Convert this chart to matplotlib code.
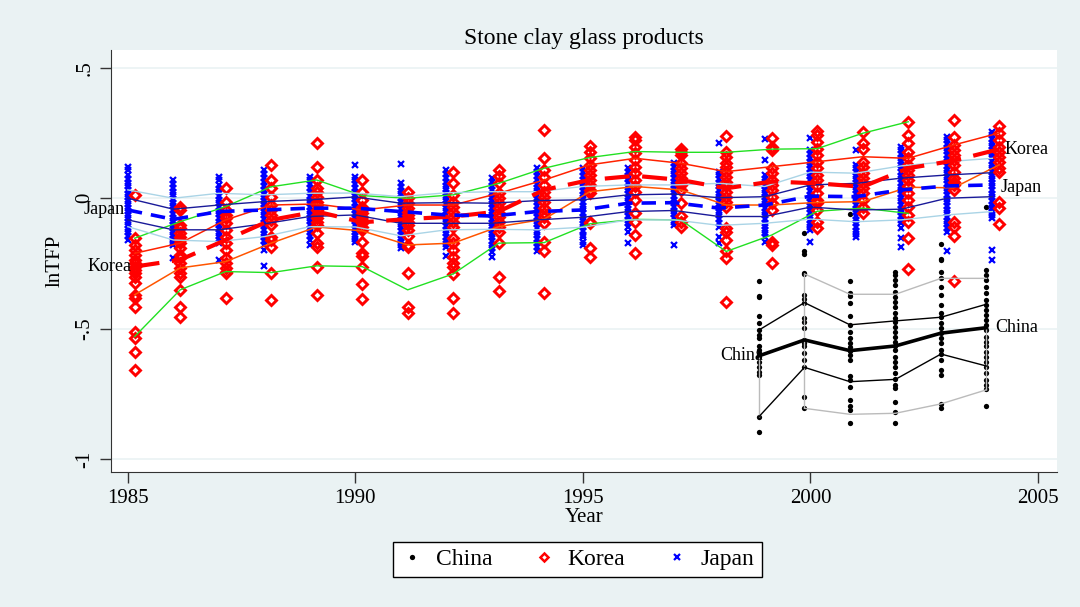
import matplotlib
matplotlib.use("Agg")
import matplotlib.pyplot as plt
from matplotlib.lines import Line2D
import numpy as np

plt.rcParams['font.family'] = ['Liberation Serif', 'DejaVu Serif']

nan = np.nan
years = list(range(1985, 2005))
china_years = list(range(1999, 2005))

# percentile lines
korea_p10 = [-0.53, -0.351, -0.281, -0.285, -0.259, -0.262, -0.351, -0.29, -0.172, -0.17,
             -0.098, -0.081, -0.083, -0.204, -0.141, -0.05, -0.038, -0.058, nan, nan]
korea_p25 = [-0.37, -0.267, -0.243, -0.172, -0.11, -0.125, -0.179, -0.172, -0.109, -0.08,
             0.025, 0.045, 0.032, -0.026, -0.026, -0.016, -0.013, 0.042, 0.04, 0.128]
korea_p50 = [-0.262, -0.236, -0.16, -0.083, -0.051, -0.092, -0.08, -0.07, -0.051, 0.032,
             0.07, 0.086, 0.07, 0.038, 0.064, 0.057, 0.044, 0.115, 0.144, 0.188]
korea_p75 = [-0.211, -0.172, -0.083, -0.026, -0.022, -0.045, -0.026, -0.026, 0.019, 0.07,
             0.128, 0.153, 0.134, 0.102, 0.121, 0.14, 0.159, 0.153, 0.204, 0.25]
korea_p90 = [-0.153, -0.09, -0.032, 0.044, 0.07, 0.01, 0.0, 0.013, 0.057, 0.115,
             0.156, 0.179, 0.176, 0.176, 0.188, 0.19, 0.249, 0.293, nan, nan]

japan_p10 = [-0.109, -0.16, -0.166, -0.147, -0.109, -0.11, -0.144, -0.121, -0.119, -0.121,
             -0.111, -0.083, -0.083, -0.104, -0.096, -0.08, -0.09, -0.083, -0.064, -0.051]
japan_p25 = [-0.083, -0.121, -0.121, -0.098, -0.07, -0.064, -0.096, -0.096, -0.096, -0.083,
             -0.073, -0.051, -0.047, -0.07, -0.07, -0.034, -0.045, -0.042, 0.0, 0.006]
japan_p50 = [-0.045, -0.081, -0.051, -0.045, -0.038, -0.038, -0.051, -0.064, -0.068, -0.051,
             -0.045, -0.019, -0.017, -0.038, -0.026, 0.008, 0.006, 0.032, 0.047, 0.051]
japan_p75 = [0.0, -0.042, -0.026, -0.013, -0.006, 0.005, -0.019, -0.017, -0.019, -0.009,
             -0.006, 0.013, 0.016, 0.002, 0.006, 0.051, 0.057, 0.077, 0.089, 0.098]
japan_p90 = [0.032, 0.0, 0.019, 0.013, 0.019, 0.02, 0.006, 0.021, 0.025, 0.025,
             0.045, 0.051, 0.051, 0.057, 0.045, 0.1, 0.096, 0.124, 0.14, 0.153]

china_p10 = [nan, -0.805, -0.828, -0.824, -0.788, -0.734]
china_p25 = [-0.837, -0.648, -0.703, -0.694, -0.597, -0.643]
china_p50 = [-0.604, -0.543, -0.584, -0.566, -0.517, -0.496]
china_p75 = [-0.505, -0.4, -0.485, -0.47, -0.456, -0.406]
china_p90 = [nan, -0.29, -0.368, -0.368, -0.307, -0.307]

# grey vertical joins in the China outer band
china_spike_years = [1999, 2000, 2004]
china_spike_top = [-0.604, -0.29, -0.496]
china_spike_bot = [-0.837, -0.805, -0.734]

# firm level lnTFP, one list per year
korea_pts = [
    [0.013, -0.153, -0.179, -0.198, -0.217, -0.236, -0.249, -0.262, -0.275, -0.287, -0.3, -0.326,
     -0.37, -0.383, -0.415, -0.511, -0.536, -0.591, -0.658],
    [-0.032, -0.045, -0.102, -0.115, -0.134, -0.147, -0.16, -0.172, -0.192, -0.217, -0.23, -0.249,
     -0.268, -0.287, -0.3, -0.351, -0.415, -0.454],
    [0.038, -0.013, -0.045, -0.064, -0.077, -0.096, -0.121, -0.147, -0.172, -0.198, -0.23, -0.249,
     -0.268, -0.281, -0.287, -0.383],
    [0.128, 0.07, 0.038, 0.006, -0.026, -0.045, -0.064, -0.083, -0.102, -0.147, -0.16, -0.185,
     -0.287, -0.39],
    [0.211, 0.121, 0.07, 0.038, 0.025, 0.006, -0.013, -0.026, -0.045, -0.064, -0.077, -0.09,
     -0.102, -0.134, -0.172, -0.185, -0.262, -0.37],
    [0.07, 0.025, -0.006, -0.032, -0.045, -0.057, -0.07, -0.083, -0.096, -0.109, -0.121, -0.166,
     -0.211, -0.221, -0.264, -0.328, -0.387],
    [0.025, 0.0, -0.019, -0.038, -0.051, -0.064, -0.077, -0.09, -0.102, -0.121, -0.144, -0.179,
     -0.185, -0.287, -0.415, -0.441],
    [0.102, 0.06, 0.013, -0.013, -0.032, -0.051, -0.07, -0.09, -0.109, -0.153, -0.172, -0.198,
     -0.224, -0.249, -0.262, -0.29, -0.383, -0.441],
    [0.108, 0.085, 0.06, 0.019, 0.0, -0.019, -0.038, -0.057, -0.073, -0.09, -0.109, -0.128,
     -0.172, -0.3, -0.354],
    [0.262, 0.153, 0.108, 0.083, 0.051, 0.025, 0.006, -0.013, -0.038, -0.057, -0.073, -0.096,
     -0.166, -0.204, -0.364],
    [0.2, 0.179, 0.153, 0.128, 0.108, 0.089, 0.07, 0.051, 0.032, 0.019, -0.09, -0.096, -0.192,
     -0.226],
    [0.236, 0.223, 0.198, 0.172, 0.147, 0.121, 0.096, 0.07, 0.045, 0.025, -0.006, -0.058, -0.09,
     -0.141, -0.211],
    [0.19, 0.179, 0.166, 0.134, 0.115, 0.096, 0.077, 0.064, 0.051, 0.032, -0.019, -0.068, -0.09,
     -0.109],
    [0.238, 0.179, 0.159, 0.134, 0.121, 0.102, 0.083, 0.064, 0.045, 0.025, 0.006, -0.013, -0.032,
     -0.115, -0.128, -0.16, -0.204, -0.23, -0.396],
    [0.23, 0.198, 0.185, 0.115, 0.096, 0.07, 0.051, 0.032, 0.006, -0.019, -0.045, -0.166, -0.179,
     -0.249],
    [0.259, 0.243, 0.217, 0.19, 0.166, 0.14, 0.115, 0.089, 0.07, 0.045, 0.019, -0.006, -0.019,
     -0.045, -0.09, -0.115],
    [0.255, 0.211, 0.19, 0.14, 0.121, 0.096, 0.077, 0.057, 0.038, 0.019, -0.006, -0.032, -0.058],
    [0.293, 0.243, 0.211, 0.179, 0.153, 0.128, 0.108, 0.089, 0.07, 0.045, 0.019, -0.006, -0.032,
     -0.064, -0.09, -0.153, -0.272],
    [0.3, 0.236, 0.204, 0.185, 0.166, 0.147, 0.128, 0.102, 0.077, 0.064, 0.051, 0.032, -0.09,
     -0.109, -0.144, -0.319],
    [0.277, 0.249, 0.223, 0.198, 0.179, 0.159, 0.14, 0.115, 0.102, -0.013, -0.038, -0.098],
]

japan_pts = [
    [0.121, 0.108, 0.09, 0.072, 0.058, 0.045, 0.03, 0.018, 0.004, -0.01, -0.022, -0.036, -0.05,
     -0.063, -0.077, -0.09, -0.104, -0.118, -0.131, -0.145, -0.16],
    [0.07, 0.055, 0.04, 0.025, 0.012, -0.002, -0.017, -0.031, -0.045, -0.06, -0.074, -0.088,
     -0.101, -0.115, -0.128, -0.142, -0.155, -0.167, -0.179, -0.23],
    [0.083, 0.068, 0.052, 0.037, 0.022, 0.008, -0.006, -0.02, -0.034, -0.048, -0.062, -0.076,
     -0.09, -0.104, -0.118, -0.132, -0.146, -0.159, -0.172, -0.236],
    [0.108, 0.093, 0.077, 0.062, 0.047, 0.032, 0.018, 0.004, -0.01, -0.024, -0.038, -0.052,
     -0.066, -0.08, -0.094, -0.108, -0.122, -0.136, -0.15, -0.165, -0.18, -0.198, -0.26],
    [0.083, 0.068, 0.053, 0.038, 0.023, 0.009, -0.005, -0.019, -0.033, -0.047, -0.061, -0.075,
     -0.089, -0.103, -0.117, -0.131, -0.145, -0.16, -0.179],
    [0.128, 0.083, 0.068, 0.053, 0.038, 0.024, 0.01, -0.004, -0.018, -0.032, -0.046, -0.06,
     -0.074, -0.088, -0.102, -0.116, -0.13, -0.144, -0.155, -0.166],
    [0.13, 0.057, 0.043, 0.029, 0.015, 0.001, -0.013, -0.027, -0.041, -0.055, -0.069, -0.083,
     -0.097, -0.111, -0.125, -0.139, -0.153, -0.166, -0.18, -0.192],
    [0.108, 0.093, 0.078, 0.063, 0.048, 0.034, 0.02, 0.006, -0.008, -0.022, -0.036, -0.05,
     -0.064, -0.078, -0.092, -0.106, -0.12, -0.134, -0.148, -0.162, -0.175, -0.185, -0.221],
    [0.077, 0.062, 0.047, 0.032, 0.018, 0.004, -0.01, -0.024, -0.038, -0.052, -0.066, -0.08,
     -0.094, -0.108, -0.122, -0.136, -0.15, -0.164, -0.178, -0.192, -0.206, -0.224],
    [0.115, 0.1, 0.085, 0.07, 0.055, 0.04, 0.026, 0.012, -0.002, -0.016, -0.03, -0.044, -0.058,
     -0.072, -0.086, -0.1, -0.114, -0.128, -0.142, -0.156, -0.17, -0.186, -0.204],
    [0.115, 0.1, 0.085, 0.07, 0.056, 0.042, 0.028, 0.014, 0.0, -0.014, -0.028, -0.042, -0.056,
     -0.07, -0.084, -0.098, -0.112, -0.126, -0.14, -0.15, -0.168, -0.18],
    [0.115, 0.1, 0.086, 0.072, 0.058, 0.044, 0.03, 0.016, 0.002, -0.012, -0.026, -0.04, -0.054,
     -0.068, -0.082, -0.096, -0.11, -0.128, -0.172],
    [0.134, 0.12, 0.106, 0.092, 0.078, 0.064, 0.05, 0.036, 0.022, 0.008, -0.006, -0.02, -0.034,
     -0.048, -0.062, -0.076, -0.09, -0.102, -0.179],
    [0.211, 0.102, 0.088, 0.074, 0.06, 0.046, 0.032, 0.018, 0.004, -0.01, -0.024, -0.038, -0.052,
     -0.066, -0.08, -0.094, -0.109, -0.147, -0.172],
    [0.226, 0.147, 0.089, 0.075, 0.061, 0.047, 0.033, 0.019, 0.005, -0.009, -0.023, -0.037,
     -0.051, -0.065, -0.079, -0.093, -0.107, -0.121, -0.135, -0.15, -0.166],
    [0.23, 0.185, 0.17, 0.155, 0.14, 0.126, 0.112, 0.098, 0.084, 0.07, 0.056, 0.042, 0.028,
     0.014, 0.0, -0.014, -0.028, -0.042, -0.056, -0.07, -0.084, -0.098, -0.11, -0.121, -0.166],
    [0.185, 0.128, 0.114, 0.1, 0.086, 0.072, 0.058, 0.044, 0.03, 0.016, 0.002, -0.012, -0.026,
     -0.04, -0.054, -0.068, -0.082, -0.096, -0.11, -0.124, -0.136, -0.147],
    [0.198, 0.184, 0.17, 0.156, 0.142, 0.128, 0.114, 0.1, 0.086, 0.072, 0.058, 0.044, 0.03,
     0.016, 0.002, -0.012, -0.026, -0.04, -0.054, -0.068, -0.082, -0.096, -0.115, -0.153, -0.185],
    [0.236, 0.222, 0.208, 0.194, 0.18, 0.166, 0.152, 0.138, 0.124, 0.11, 0.096, 0.082, 0.068,
     0.054, 0.04, 0.026, 0.012, -0.002, -0.016, -0.03, -0.044, -0.058, -0.072, -0.086, -0.1,
     -0.114, -0.128, -0.204],
    [0.255, 0.241, 0.227, 0.213, 0.199, 0.185, 0.171, 0.157, 0.143, 0.129, 0.115, 0.101, 0.087,
     0.073, 0.059, 0.045, 0.031, 0.017, 0.003, -0.011, -0.025, -0.039, -0.053, -0.065, -0.077,
     -0.2, -0.236],
]

china_pts = [
    [-0.316, -0.374, -0.379, -0.451, -0.479, -0.505, -0.524, -0.536, -0.568, -0.581, -0.594,
     -0.607, -0.626, -0.645, -0.664, -0.677, -0.837, -0.894],
    [-0.132, -0.204, -0.213, -0.287, -0.29, -0.37, -0.387, -0.4, -0.46, -0.473, -0.498, -0.543,
     -0.556, -0.568, -0.594, -0.62, -0.648, -0.76, -0.805],
    [-0.06, -0.316, -0.364, -0.374, -0.402, -0.451, -0.485, -0.511, -0.536, -0.556, -0.571,
     -0.584, -0.6, -0.62, -0.683, -0.696, -0.722, -0.773, -0.798, -0.811, -0.86],
    [-0.281, -0.294, -0.313, -0.332, -0.358, -0.377, -0.396, -0.415, -0.441, -0.46, -0.473,
     -0.492, -0.511, -0.53, -0.549, -0.566, -0.581, -0.607, -0.626, -0.645, -0.67, -0.694,
     -0.715, -0.728, -0.779, -0.821, -0.86],
    [-0.175, -0.234, -0.236, -0.281, -0.307, -0.339, -0.37, -0.409, -0.441, -0.456, -0.479,
     -0.498, -0.517, -0.536, -0.556, -0.581, -0.597, -0.62, -0.658, -0.677, -0.788, -0.805],
    [-0.032, -0.275, -0.294, -0.313, -0.339, -0.364, -0.39, -0.409, -0.428, -0.447, -0.466,
     -0.485, -0.505, -0.53, -0.549, -0.568, -0.588, -0.607, -0.626, -0.645, -0.67, -0.696,
     -0.715, -0.732, -0.796],
]

# small horizontal offsets so the three countries do not sit on top of each other
off_china, off_japan, off_korea = -0.13, 0.0, 0.15

fig = plt.figure(figsize=(10.8, 6.07), dpi=100)
fig.patch.set_facecolor('#eaf2f3')
ax = fig.add_axes([111 / 1080, 1 - 472 / 607, (1057 - 111) / 1080, (472 - 50) / 607])
ax.set_facecolor('white')

ax.set_xlim(1984.63, 2005.42)
ax.set_ylim(-1.049, 0.568)
ax.set_yticks([-1, -0.5, 0, 0.5])
ax.set_yticklabels(['-1', '-.5', '0', '.5'], rotation=90, va='center')
ax.set_xticks([1985, 1990, 1995, 2000, 2005])
for yv in [-1, -0.5, 0, 0.5]:
    ax.axhline(yv, color='#eaf2f3', lw=1.2, zorder=0)

for s in ['top', 'right']:
    ax.spines[s].set_visible(False)
for s in ['left', 'bottom']:
    ax.spines[s].set_color('#333333')
ax.tick_params(axis='both', direction='out', length=8, width=1, color='#333333',
               labelsize=15, pad=4)

# scatter
for i, yr in enumerate(china_years):
    ax.plot([yr + off_china] * len(china_pts[i]), china_pts[i], 'o', color='black', ms=3.8,
            mew=0, zorder=2)
for i, yr in enumerate(years):
    ax.plot([yr + off_japan] * len(japan_pts[i]), japan_pts[i], 'x', color='#0000ff', ms=4.5,
            mew=1.6, zorder=2)
for i, yr in enumerate(years):
    ax.plot([yr + off_korea] * len(korea_pts[i]), korea_pts[i], 'D', color='#ff0000', ms=5.2,
            mfc='none', mew=2.1, zorder=3)

kx = np.array(years) + off_korea
jx = np.array(years) + off_japan
cx = np.array(china_years) + off_china

# Korea lines
ax.plot(kx, korea_p10, color='#22e022', lw=1, zorder=4)
ax.plot(kx, korea_p90, color='#22e022', lw=1, zorder=4)
ax.plot(kx, korea_p25, color='#ff5500', lw=1.1, zorder=4)
ax.plot(kx, korea_p75, color='#ff2200', lw=1.1, zorder=4)
ax.plot(kx, korea_p50, color='#ff0000', lw=3, dashes=(6, 3), zorder=5)

# Japan lines
ax.plot(jx, japan_p10, color='#aad4e6', lw=1, zorder=4)
ax.plot(jx, japan_p90, color='#aad4e6', lw=1, zorder=4)
ax.plot(jx, japan_p25, color='#1a1a99', lw=1, zorder=4)
ax.plot(jx, japan_p75, color='#1a1a99', lw=1, zorder=4)
ax.plot(jx, japan_p50, color='#0000ff', lw=2.6, dashes=(4, 2.5), zorder=5)

# China lines
ax.vlines(np.array(china_spike_years) + off_china, china_spike_bot, china_spike_top,
          color='#bbbbbb', lw=1, zorder=4)
ax.plot(cx, china_p10, color='#bbbbbb', lw=1, zorder=4)
ax.plot(cx, china_p90, color='#bbbbbb', lw=1, zorder=4)
ax.plot(cx, china_p25, color='black', lw=1, zorder=4)
ax.plot(cx, china_p75, color='black', lw=1, zorder=4)
ax.plot(cx, china_p50, color='black', lw=2.6, zorder=5)

# line labels at both ends of the median
lab = dict(fontsize=13, va='center', zorder=6)
ax.annotate('Japan', (jx[0], japan_p50[0]), xytext=(-2, 0), textcoords='offset points',
            ha='right', **lab)
ax.annotate('Korea', (kx[0], korea_p50[0]), xytext=(-2, 0), textcoords='offset points',
            ha='right', **lab)
ax.annotate('Korea', (kx[-1], korea_p50[-1]), xytext=(4, 0), textcoords='offset points',
            ha='left', **lab)
ax.annotate('Japan', (jx[-1], japan_p50[-1]), xytext=(6, -2), textcoords='offset points',
            ha='left', **lab)
ax.annotate('China', (cx[0], china_p50[0]), xytext=(3, 0), textcoords='offset points',
            ha='right', **lab)
ax.annotate('China', (cx[-1], china_p50[-1]), xytext=(6, 0), textcoords='offset points',
            ha='left', **lab)

ax.set_title('Stone clay glass products', fontsize=17, pad=4)
ax.set_xlabel('Year', fontsize=15, labelpad=0)
ax.set_ylabel('lnTFP', fontsize=15, labelpad=8)

handles = [
    Line2D([], [], ls='none', marker='o', color='black', ms=3.8, mew=0),
    Line2D([], [], ls='none', marker='D', color='#ff0000', mfc='none', ms=4.5, mew=1.8),
    Line2D([], [], ls='none', marker='x', color='#0000ff', ms=4.5, mew=1.6),
]
leg = fig.legend(handles, ['China', 'Korea', 'Japan'], ncol=3, loc='center',
                 bbox_to_anchor=(577.5 / 1080, 1 - 559.5 / 607), fontsize=17,
                 frameon=True, fancybox=False, edgecolor='black', framealpha=1,
                 handletextpad=0.5, columnspacing=1.7, handlelength=1.0, borderpad=0.3)
leg.get_frame().set_linewidth(1)

fig.savefig('out.png', dpi=100, facecolor=fig.get_facecolor())
